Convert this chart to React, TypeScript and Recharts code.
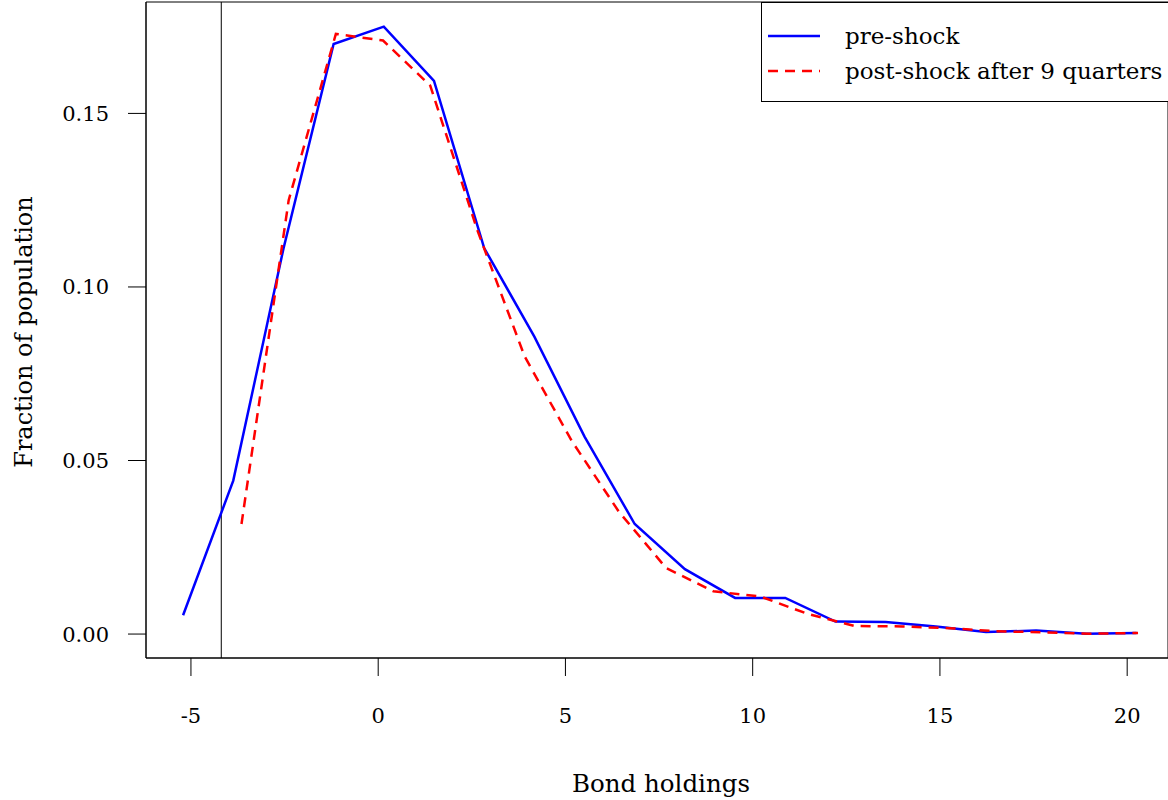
import React from 'react';
import { LineChart, Line, XAxis, YAxis, ReferenceLine, ReferenceArea, Legend, Label } from 'recharts';

// bond grid and fractions
const preShockX = [-5.21, -3.87, -2.53, -1.19, 0.15, 1.49, 2.83, 4.17, 5.51, 6.85, 8.19, 9.53, 10.87, 12.21, 13.55, 14.89, 16.23, 17.57, 18.91, 20.25];
const preShockY = [0.0054, 0.0442, 0.111, 0.170, 0.175, 0.1594, 0.1112, 0.0857, 0.0569, 0.0317, 0.0187, 0.0104, 0.0104, 0.0036, 0.0035, 0.0022, 0.0006, 0.0010, 0.0001, 0.0003];

const postShockX = [-3.65, -2.39, -1.13, 0.13, 1.39, 2.65, 3.91, 5.17, 6.43, 7.69, 8.95, 10.21, 11.47, 12.73, 13.99, 15.25, 16.51, 17.77, 19.03, 20.29];
const postShockY = [0.0317, 0.125, 0.1729, 0.171, 0.158, 0.1163, 0.080, 0.0556, 0.0352, 0.0190, 0.0123, 0.0108, 0.0058, 0.0023, 0.0022, 0.0017, 0.0008, 0.0005, 0.0001, 0.0003];

const seriesNames = ['pre-shock', 'post-shock after 9 quarters'];
const seriesColors = ['#0000ff', '#ff0000'];
const seriesDashes = [undefined, '10 7'];

const xTicks = [-5, 0, 5, 10, 15, 20];
const yTicks = [0, 0.05, 0.1, 0.15];
const borrowingLimit = -4.19;

const X_DOMAIN: [number, number] = [-6.2, 21.09];
const Y_DOMAIN: [number, number] = [-0.0069, 0.1821];

const FONT = 'DejaVu Serif';

const preData = preShockX.map((x, i) => ({ x, y: preShockY[i] }));
const postData = postShockX.map((x, i) => ({ x, y: postShockY[i] }));

// legend keeps the series order of the figure (recharts sorts by name otherwise)
const LegendBox = (props: any) => {
    const items = props.payload || [];
    const ordered = seriesNames.map(n => items.find((it: any) => it.value === n)).filter(Boolean);
    return (
        <div style={{
            border: '1px solid #000',
            borderRight: 'none',
            background: '#fff',
            height: 100,
            boxSizing: 'border-box',
            paddingTop: 15,
            fontFamily: FONT,
            fontSize: 23,
        }}>
            {ordered.map((item: any, i: number) => (
                <div key={i} style={{ display: 'flex', alignItems: 'center', height: 35 }}>
                    <svg width={80} height={10} style={{ marginLeft: 6 }}>
                        <line
                            x1={0} y1={5} x2={52} y2={5}
                            stroke={item.color}
                            strokeWidth={2.5}
                            strokeDasharray={seriesDashes[seriesNames.indexOf(item.value)]}
                        />
                    </svg>
                    <span style={{ marginLeft: -3, color: '#000' }}>{item.value}</span>
                </div>
            ))}
        </div>
    );
};

export default function App() {
    return (
        <div style={{ position: 'absolute', left: 0, top: 0, background: '#fff' }}>
            <LineChart width={1168} height={800} margin={{ top: 2, right: 0, left: 0, bottom: 0 }}>
                <XAxis
                    type="number"
                    dataKey="x"
                    domain={X_DOMAIN}
                    allowDataOverflow
                    ticks={xTicks}
                    tickSize={18}
                    tickMargin={32}
                    height={142}
                    stroke="#000"
                    tick={{ fill: '#000', fontSize: 21, fontFamily: FONT }}
                >
                    <Label content={({ viewBox }: any) => (
                        <text
                            x={viewBox.x + viewBox.width / 2 + 4}
                            y={viewBox.y + 125}
                            textAnchor="middle"
                            dominantBaseline="central"
                            fontFamily={FONT}
                            fontSize={24.5}
                            fill="#000"
                        >Bond holdings</text>
                    )} />
                </XAxis>
                <YAxis
                    type="number"
                    domain={Y_DOMAIN}
                    allowDataOverflow
                    ticks={yTicks}
                    tickFormatter={(v: number) => v.toFixed(2)}
                    tickSize={18}
                    tickMargin={19}
                    width={146}
                    stroke="#000"
                    tick={{ fill: '#000', fontSize: 21, fontFamily: FONT }}
                >
                    <Label content={({ viewBox }: any) => {
                        const cx = viewBox.x + 24;
                        const cy = viewBox.y + viewBox.height / 2 + 2;
                        return (
                            <text
                                x={cx}
                                y={cy}
                                transform={`rotate(-90 ${cx} ${cy})`}
                                textAnchor="middle"
                                dominantBaseline="central"
                                fontFamily={FONT}
                                fontSize={24}
                                fill="#000"
                            >Fraction of population</text>
                        );
                    }} />
                </YAxis>
                {/* plot frame */}
                <ReferenceArea
                    x1={X_DOMAIN[0]} x2={X_DOMAIN[1]}
                    y1={Y_DOMAIN[0]} y2={Y_DOMAIN[1]}
                    fill="none" fillOpacity={0}
                    stroke="#000" strokeWidth={1}
                    ifOverflow="visible"
                />
                <ReferenceLine x={borrowingLimit} stroke="#000" strokeWidth={1} />
                <Line
                    data={preData}
                    dataKey="y"
                    name={seriesNames[0]}
                    stroke={seriesColors[0]}
                    strokeWidth={2.5}
                    dot={false}
                    isAnimationActive={false}
                />
                <Line
                    data={postData}
                    dataKey="y"
                    name={seriesNames[1]}
                    stroke={seriesColors[1]}
                    strokeWidth={2.5}
                    strokeDasharray={seriesDashes[1]}
                    dot={false}
                    isAnimationActive={false}
                />
                <Legend
                    layout="vertical"
                    align="center"
                    verticalAlign="middle"
                    content={<LegendBox />}
                    wrapperStyle={{ position: 'absolute', left: 761, top: 2, width: 407, height: 100 }}
                />
            </LineChart>
        </div>
    );
}
